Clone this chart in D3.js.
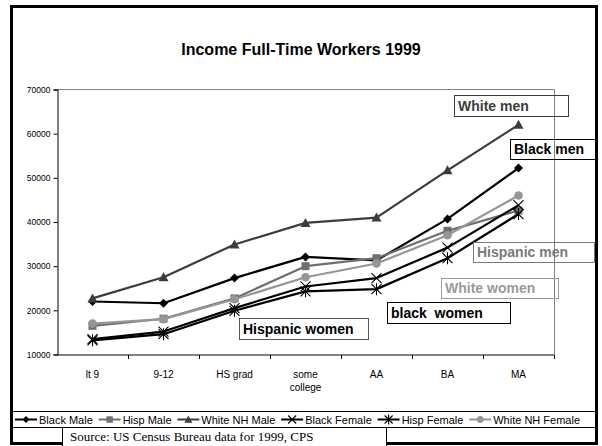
<!DOCTYPE html>
<html>
<head>
<meta charset="utf-8">
<script src="https://cdn.jsdelivr.net/npm/d3@7"></script>
<style>
  html, body { margin: 0; padding: 0; background: #fff; }
  svg { display: block; font-family: "Liberation Sans", Arial, sans-serif; }
</style>
</head>
<body>
<svg id="chart" width="602" height="446"></svg>
<script>
// Education levels on the x axis
const categories = ["lt 9", "9-12", "HS grad", "some college", "AA", "BA", "MA"];

// Median income of full-time workers, 1999, by group
const blackMale     = [22000, 21600, 27300, 32100, 31300, 40700, 52200];
const hispMale      = [16500, 18100, 22700, 30000, 31800, 38000, 42600];
const whiteNHMale   = [22700, 27500, 34900, 39800, 41000, 51700, 62000];
const blackFemale   = [13500, 15200, 20500, 25400, 27300, 34200, 43800];
const hispFemale    = [13200, 14600, 19900, 24300, 24800, 31800, 41800];
const whiteNHFemale = [17000, 18000, 22500, 27500, 30600, 37000, 46000];

const yTicks = [10000, 20000, 30000, 40000, 50000, 60000, 70000];

const series = [
  { name: "Black Male",      values: blackMale,     color: "#000000", marker: "diamond" },
  { name: "Hisp Male",       values: hispMale,      color: "#6e6e6e", marker: "square" },
  { name: "White NH Male",   values: whiteNHMale,   color: "#3c3c3c", marker: "triangle" },
  { name: "Black Female",    values: blackFemale,   color: "#000000", marker: "x" },
  { name: "Hisp Female",     values: hispFemale,    color: "#000000", marker: "asterisk" },
  { name: "White NH Female", values: whiteNHFemale, color: "#969696", marker: "circle" }
];

const svg = d3.select("#chart");

// outer frame
svg.append("rect")
  .attr("x", 11.5).attr("y", 6.5).attr("width", 585).attr("height", 437)
  .attr("fill", "#fff").attr("stroke", "#000").attr("stroke-width", 3);

// title
svg.append("text")
  .attr("x", 301).attr("y", 55)
  .attr("text-anchor", "middle")
  .attr("font-size", 16).attr("font-weight", "bold")
  .text("Income Full-Time Workers 1999");

const plot = { left: 57, right: 554, top: 89.5, bottom: 354.5 };

const x = d3.scaleBand().domain(categories).range([plot.left, plot.right]).padding(0);
const y = d3.scaleLinear().domain([10000, 70000]).range([plot.bottom, plot.top]);
const cx = c => x(c) + x.bandwidth() / 2;

// plot area frame (top and right edges)
svg.append("path")
  .attr("d", `M${plot.left},${plot.top}H${plot.right + 0.5}V${plot.bottom}`)
  .attr("fill", "none").attr("stroke", "#808080").attr("stroke-width", 1);

// y axis
const yAxis = svg.append("g")
  .attr("transform", `translate(${plot.left + 0.5},0)`)
  .call(d3.axisLeft(y).tickValues(yTicks).tickFormat(d3.format("d")).tickSize(4).tickPadding(3));
yAxis.select(".domain").attr("stroke", "#000");
yAxis.selectAll(".tick line").attr("stroke", "#000");
yAxis.selectAll(".tick text")
  .attr("font-family", "Liberation Sans, Arial, sans-serif")
  .attr("font-size", 8.5).attr("fill", "#000");

// x axis: labels at category centres, tick marks at category boundaries
const xAxis = svg.append("g")
  .attr("transform", `translate(0,${plot.bottom + 0.5})`)
  .call(d3.axisBottom(x).tickSize(0).tickPadding(0));
xAxis.select(".domain").attr("d", `M${plot.left},0H${plot.right + 0.5}`).attr("stroke", "#000");
xAxis.selectAll(".tick text").remove();
const bounds = categories.map(c => x(c)).concat([x(categories[categories.length - 1]) + x.bandwidth()]);
xAxis.selectAll("line.bound")
  .data(bounds.slice(1))
  .join("line")
  .attr("class", "bound")
  .attr("x1", d => Math.round(d) + 0.5).attr("x2", d => Math.round(d) + 0.5)
  .attr("y1", 0).attr("y2", 4)
  .attr("stroke", "#000");
xAxis.selectAll("text.cat")
  .data(categories)
  .join("text")
  .attr("class", "cat")
  .attr("text-anchor", "middle")
  .attr("font-family", "Liberation Sans, Arial, sans-serif")
  .attr("font-size", 10)
  .attr("fill", "#000")
  .attr("x", d => cx(d))
  .attr("y", 23)
  .each(function (d) {
    const words = d === "some college" ? ["some", "college"] : [d];
    const t = d3.select(this);
    words.forEach((w, i) => t.append("tspan").attr("x", cx(d)).attr("dy", i ? 13 : 0).text(w));
  });

// marker drawing
function drawMarker(g, type, color, px, py, s) {
  s = s || 1;
  if (type === "diamond") {
    g.append("path").attr("d", `M${px},${py - 4.5 * s}L${px + 4.5 * s},${py}L${px},${py + 4.5 * s}L${px - 4.5 * s},${py}Z`)
      .attr("fill", color);
  } else if (type === "square") {
    g.append("rect").attr("x", px - 4 * s).attr("y", py - 4 * s).attr("width", 8 * s).attr("height", 8 * s)
      .attr("fill", color);
  } else if (type === "triangle") {
    g.append("path").attr("d", `M${px},${py - 5 * s}L${px + 5 * s},${py + 4 * s}L${px - 5 * s},${py + 4 * s}Z`)
      .attr("fill", color);
  } else if (type === "circle") {
    g.append("circle").attr("cx", px).attr("cy", py).attr("r", 4.3 * s).attr("fill", color);
  } else if (type === "x") {
    const r = 5 * s;
    g.append("path").attr("d", `M${px - r},${py - r}L${px + r},${py + r}M${px - r},${py + r}L${px + r},${py - r}`)
      .attr("stroke", color).attr("stroke-width", 1.1).attr("fill", "none");
  } else if (type === "asterisk") {
    const r = 5 * s;
    g.append("path").attr("d", `M${px - r},${py - r}L${px + r},${py + r}M${px - r},${py + r}L${px + r},${py - r}M${px},${py - r - 1}L${px},${py + r + 1}`)
      .attr("stroke", color).attr("stroke-width", 1.1).attr("fill", "none");
  }
}

// series lines and markers
const line = d3.line().x((d, i) => cx(categories[i])).y(d => y(d));
series.forEach(s => {
  const g = svg.append("g");
  g.append("path").datum(s.values).attr("d", line)
    .attr("fill", "none").attr("stroke", s.color).attr("stroke-width", 2.2).attr("stroke-linejoin", "round");
  s.values.forEach((v, i) => drawMarker(g, s.marker, s.color, cx(categories[i]), y(v)));
});

// in-chart labels
const notes = [
  { text: "White men",      x: 454, y: 95,  w: 114, h: 21, color: "#3c3c3c", border: "#3c3c3c" },
  { text: "Black men",      x: 510, y: 139, w: 85,  h: 20, color: "#000000", border: "#000000" },
  { text: "Hispanic men",   x: 473, y: 242, w: 121, h: 20, color: "#7a7a7a", border: "#7a7a7a" },
  { text: "White women",    x: 441, y: 278, w: 117, h: 20, color: "#9a9a9a", border: "#9a9a9a" },
  { text: "black  women",   x: 387, y: 302, w: 123, h: 21, color: "#000000", border: "#000000" },
  { text: "Hispanic women", x: 239, y: 318, w: 129, h: 21, color: "#000000", border: "#555555" }
];
notes.forEach(n => {
  svg.append("rect").attr("x", n.x + 0.5).attr("y", n.y + 0.5).attr("width", n.w).attr("height", n.h)
    .attr("fill", "none").attr("stroke", n.border).attr("stroke-width", 1);
  svg.append("text").attr("x", n.x + 4).attr("y", n.y + n.h / 2 + 5)
    .attr("font-size", 14).attr("font-weight", "bold").attr("fill", n.color)
    .attr("xml:space", "preserve").style("white-space", "pre")
    .text(n.text);
});

// legend
const legend = svg.append("g");
legend.append("rect").attr("x", 12.5).attr("y", 411.5).attr("width", 583).attr("height", 16)
  .attr("fill", "#fff").attr("stroke", "#000").attr("stroke-width", 1);
const items = legend.selectAll("g.item").data(series).join("g").attr("class", "item");
items.append("text").attr("font-size", 11).attr("y", 424).text(d => d.name);
const widths = [];
items.select("text").each(function () { widths.push(this.getComputedTextLength()); });
const sampleW = 22, gapTxt = 2;
const total = d3.sum(widths) + series.length * (sampleW + gapTxt);
const gap = (580 - 15 - total) / (series.length - 1);
let lx = 15;
items.each(function (d, i) {
  const g = d3.select(this);
  g.append("line").attr("x1", lx).attr("x2", lx + sampleW).attr("y1", 419.5).attr("y2", 419.5)
    .attr("stroke", d.color).attr("stroke-width", 2);
  drawMarker(g, d.marker, d.color, lx + sampleW / 2, 419.5, 0.8);
  g.select("text").attr("x", lx + sampleW + gapTxt);
  lx += sampleW + gapTxt + widths[i] + gap;
});

// source note
svg.append("rect").attr("x", 62.5).attr("y", 427.5).attr("width", 324).attr("height", 22)
  .attr("fill", "#fff").attr("stroke", "#000").attr("stroke-width", 1);
svg.append("text").attr("x", 70).attr("y", 441)
  .attr("font-family", "Liberation Serif, Times New Roman, serif").attr("font-size", 13)
  .text("Source: US Census Bureau data for 1999, CPS");
</script>
</body>
</html>
